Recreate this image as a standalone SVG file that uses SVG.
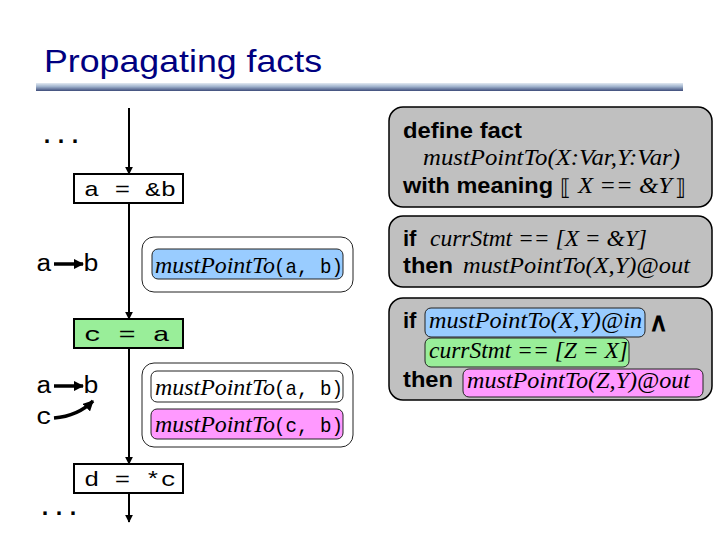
<svg xmlns="http://www.w3.org/2000/svg" width="720" height="540" viewBox="0 0 720 540">
<defs>
<linearGradient id="bar" x1="0" y1="0" x2="0" y2="1">
<stop offset="0" stop-color="#e2eaf2"/>
<stop offset="0.45" stop-color="#9fb2cc"/>
<stop offset="1" stop-color="#3e4c7a"/>
</linearGradient>
<marker id="ah" viewBox="0 0 10 10" refX="9" refY="5" markerWidth="4" markerHeight="4" orient="auto">
<path d="M0,0 L10,5 L0,10 z" fill="#000"/>
</marker>
<marker id="ah2" viewBox="0 0 10 10" refX="9" refY="5" markerWidth="3" markerHeight="3" orient="auto">
<path d="M0,0 L10,5 L0,10 z" fill="#000"/>
</marker>
</defs>
<style>
.title{font-family:"Liberation Sans",Arial,sans-serif;font-size:32px;fill:#000080}
.mono{font-family:"Liberation Mono","Courier New",monospace;font-size:21px;fill:#000}
.var{font-family:"Liberation Mono","Courier New",monospace;font-size:23px;fill:#000}
.it{font-family:"Liberation Serif","Times New Roman",serif;font-style:italic;font-size:23px;fill:#000}
.bold{font-family:"Liberation Sans",Arial,sans-serif;font-weight:bold;font-size:22px;fill:#000}
.and{font-family:"Liberation Sans",Arial,sans-serif;font-weight:bold;font-size:26px;fill:#000}
.brk{font-family:"DejaVu Serif",serif;font-size:22px;fill:#000}
.dots{font-family:"Liberation Mono",monospace;font-weight:bold;font-size:24px;fill:#000}
.stmt{fill:#fff;stroke:#000;stroke-width:2}
.outer{fill:#fff;stroke:#222;stroke-width:1}
.rule{fill:#c0c0c0;stroke:#000;stroke-width:1.5}
.hl{stroke:#222;stroke-width:1}
.blue{fill:#99ccff}
.green{fill:#99ee99}
.pink{fill:#ff99ff}
.white{fill:#fff}
.flow{stroke:#000;stroke-width:2;fill:none}
.ptr{stroke:#000;stroke-width:3.5;fill:none}
</style>

<text class="title" x="44" y="72" textLength="278" lengthAdjust="spacingAndGlyphs">Propagating facts</text>
<rect x="36" y="83" width="647" height="8" fill="url(#bar)"/>

<g id="connectors">
<line class="flow" x1="129" y1="108" x2="129" y2="174" marker-end="url(#ah)"/>
<line class="flow" x1="129" y1="203" x2="129" y2="319" marker-end="url(#ah)"/>
<line class="flow" x1="129" y1="348" x2="129" y2="464" marker-end="url(#ah)"/>
<line class="flow" x1="129" y1="493" x2="129" y2="522" marker-end="url(#ah)"/>
</g>

<g id="dots-top"><text class="dots" x="40" y="143" textLength="42" lengthAdjust="spacingAndGlyphs">...</text></g>
<g id="dots-bottom"><text class="dots" x="38" y="515" textLength="42" lengthAdjust="spacingAndGlyphs">...</text></g>

<g id="stmt-a-addr-b">
<rect class="stmt" x="74" y="174" width="109" height="29"/>
<text class="mono" x="84" y="196" textLength="92" lengthAdjust="spacingAndGlyphs">a = &amp;b</text>
</g>
<g id="stmt-c-a">
<rect class="stmt green" x="74" y="319" width="109" height="29"/>
<text class="mono" x="84" y="341" textLength="86" lengthAdjust="spacingAndGlyphs">c = a</text>
</g>
<g id="stmt-d-deref-c">
<rect class="stmt" x="74" y="464" width="109" height="29"/>
<text class="mono" x="84" y="486" textLength="92" lengthAdjust="spacingAndGlyphs">d = *c</text>
</g>

<g id="graph1">
<text class="var" x="36" y="271" textLength="16" lengthAdjust="spacingAndGlyphs">a</text>
<line class="ptr" x1="54" y1="264" x2="83" y2="264" marker-end="url(#ah2)"/>
<text class="var" x="83" y="271" textLength="16" lengthAdjust="spacingAndGlyphs">b</text>
</g>
<g id="graph2">
<text class="var" x="36" y="393" textLength="16" lengthAdjust="spacingAndGlyphs">a</text>
<line class="ptr" x1="54" y1="386" x2="83" y2="386" marker-end="url(#ah2)"/>
<text class="var" x="83" y="393" textLength="16" lengthAdjust="spacingAndGlyphs">b</text>
<text class="var" x="36" y="424" textLength="16" lengthAdjust="spacingAndGlyphs">c</text>
<path class="ptr" d="M54,418 Q78,416 93,401" marker-end="url(#ah2)"/>
</g>

<g id="facts1">
<rect class="outer" x="142" y="237" width="211" height="55" rx="12"/>
<rect class="hl blue" x="152" y="249" width="191" height="30" rx="6"/>
<text class="it" x="155" y="273" textLength="120" lengthAdjust="spacingAndGlyphs">mustPointTo</text>
<text class="mono" x="274" y="273" textLength="69" lengthAdjust="spacingAndGlyphs">(a, b)</text>
</g>

<g id="facts2">
<rect class="outer" x="142" y="363" width="211" height="84" rx="12"/>
<rect class="hl white" x="151" y="371" width="192" height="31" rx="6"/>
<text class="it" x="155" y="395" textLength="120" lengthAdjust="spacingAndGlyphs">mustPointTo</text>
<text class="mono" x="274" y="395" textLength="69" lengthAdjust="spacingAndGlyphs">(a, b)</text>
<rect class="hl pink" x="151" y="409" width="192" height="30" rx="6"/>
<text class="it" x="155" y="432" textLength="120" lengthAdjust="spacingAndGlyphs">mustPointTo</text>
<text class="mono" x="274" y="432" textLength="69" lengthAdjust="spacingAndGlyphs">(c, b)</text>
</g>

<g id="rule-define">
<rect class="rule" x="389" y="107" width="323" height="100" rx="14"/>
<text class="bold" x="403" y="138" textLength="119" lengthAdjust="spacingAndGlyphs">define fact</text>
<text class="it" x="423" y="165" textLength="257" lengthAdjust="spacingAndGlyphs">mustPointTo(X:Var,Y:Var)</text>
<text class="bold" x="403" y="193" textLength="150" lengthAdjust="spacingAndGlyphs">with meaning</text>
<text class="brk" x="560" y="195">⟦</text>
<text class="it" x="578" y="193" textLength="94" lengthAdjust="spacingAndGlyphs">X == &amp;Y</text>
<text class="brk" x="675" y="195">⟧</text>
</g>

<g id="rule-addr">
<rect class="rule" x="389" y="216" width="323" height="71" rx="14"/>
<text class="bold" x="403" y="246">if</text>
<text class="it" x="430" y="246" textLength="217" lengthAdjust="spacingAndGlyphs">currStmt == [X = &amp;Y]</text>
<text class="bold" x="403" y="273" textLength="50" lengthAdjust="spacingAndGlyphs">then</text>
<text class="it" x="463" y="273" textLength="227" lengthAdjust="spacingAndGlyphs">mustPointTo(X,Y)@out</text>
</g>

<g id="rule-copy">
<rect class="rule" x="389" y="298" width="323" height="102" rx="14"/>
<text class="bold" x="403" y="328">if</text>
<rect class="hl blue" x="425" y="308" width="220" height="29" rx="6"/>
<text class="it" x="429" y="328" textLength="213" lengthAdjust="spacingAndGlyphs">mustPointTo(X,Y)@in</text>
<text class="and" x="649" y="331">∧</text>
<rect class="hl green" x="425" y="338" width="204" height="29" rx="6"/>
<text class="it" x="429" y="358" textLength="199" lengthAdjust="spacingAndGlyphs">currStmt == [Z = X]</text>
<text class="bold" x="403" y="387" textLength="50" lengthAdjust="spacingAndGlyphs">then</text>
<rect class="hl pink" x="463" y="369" width="240" height="28" rx="6"/>
<text class="it" x="467" y="388" textLength="223" lengthAdjust="spacingAndGlyphs">mustPointTo(Z,Y)@out</text>
</g>
</svg>
